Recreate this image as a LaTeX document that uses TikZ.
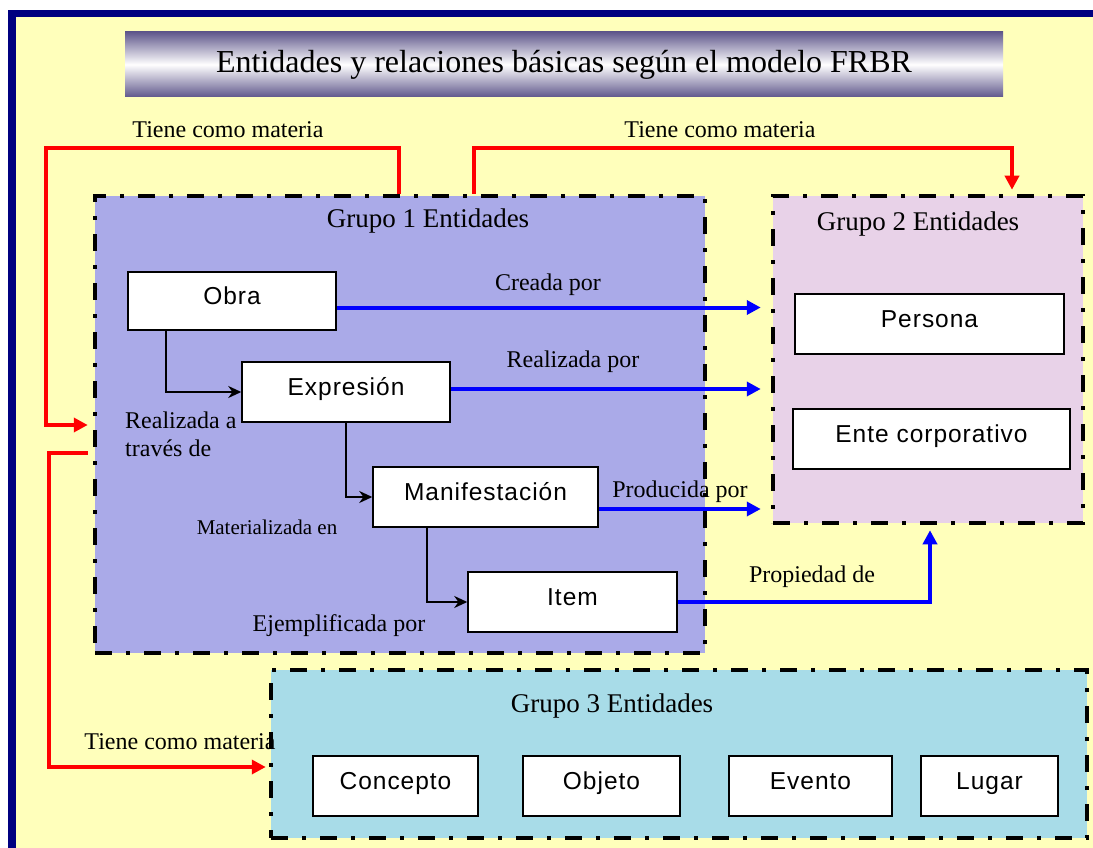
\documentclass[tikz,border=0pt]{standalone}
\usepackage{fontspec}
\setmainfont{Liberation Serif}
\setsansfont{Liberation Sans}[LetterSpace=4]
\usetikzlibrary{arrows.meta,positioning}

\definecolor{navyframe}{RGB}{0,0,128}
\definecolor{paper}{RGB}{255,255,187}
\definecolor{grupoA}{RGB}{170,170,232}
\definecolor{grupoB}{RGB}{232,210,232}
\definecolor{grupoC}{RGB}{168,220,232}
\definecolor{titleedge}{RGB}{96,88,140}

\tikzset{
  grupo/.style={draw=black, line width=4.5pt, dash pattern=on 17pt off 14pt on 4pt off 14pt, inner sep=0pt},
  entidad/.style={draw=black, line width=1.5pt, fill=white, inner sep=0pt, minimum height=60pt,
    text height=0.9em, text depth=0.3em, font=\sffamily\fontsize{24.5}{28}\selectfont},
  rotulo/.style={font=\fontsize{24}{28}\selectfont, inner sep=0pt},
  titgrupo/.style={font=\fontsize{27}{31}\selectfont, inner sep=0pt},
  negra/.style={draw=black, line width=2.3pt, -{Stealth[length=13pt,width=12pt]}},
  azul/.style={draw=blue, line width=4pt, -{Triangle[length=14pt,width=14pt]}},
  roja/.style={draw=red, line width=4pt, -{Triangle[length=14pt,width=14pt]}}
}

\begin{document}
\begin{tikzpicture}[x=1pt,y=-1pt]
  \useasboundingbox (0,0) rectangle (1093,848);
  \fill[white] (0,0) rectangle (1093,848);
  \fill[navyframe] (8,10) rectangle (1093,848);
  \fill[paper] (16,17) rectangle (1093,848);

  % title
  \node[minimum width=878pt, minimum height=65pt, inner sep=0pt,
    top color=titleedge, bottom color=titleedge, middle color=white,
    font=\fontsize{32}{36}\selectfont] (titulo) at (564,64.5)
    {Entidades y relaciones básicas según el modelo FRBR};

  % groups
  \node[grupo, fill=grupoA, minimum width=610pt, minimum height=457pt] (grupo1) at (400,424.5) {};
  \node[grupo, fill=grupoB, minimum width=310pt, minimum height=327pt] (grupo2) at (928,359.5) {};
  \node[grupo, fill=grupoC, minimum width=816pt, minimum height=168pt] (grupo3) at (679,754) {};
  \node[titgrupo] (g1txt) at (428,221) {Grupo 1 Entidades};
  \node[titgrupo] (g2txt) at (918,224) {Grupo 2 Entidades};
  \node[titgrupo] (g3txt) at (612,706) {Grupo 3 Entidades};

  % group 1
  \node[entidad, minimum width=208pt, minimum height=58pt] (obra) at (232,301) {Obra};
  \node[entidad, minimum width=208pt] (expr) at (346,392) {Expresión};
  \node[entidad, minimum width=225pt] (manif) at (485.5,497) {Manifestación};
  \node[entidad, minimum width=209pt] (item) at (572.5,602) {Item};

  % group 2
  \node[entidad, minimum width=269pt] (persona) at (929.5,324) {Persona};
  \node[entidad, minimum width=277pt] (ente) at (931.5,439) {Ente corporativo};

  % group 3
  \node[entidad, minimum width=165pt] (concepto) at (395.5,786) {Concepto};
  \node[entidad, minimum width=157pt] (objeto) at (601.5,786) {Objeto};
  \node[entidad, minimum width=163pt] (evento) at (810.5,786) {Evento};
  \node[entidad, minimum width=137pt] (lugar) at (989.5,786) {Lugar};

  % inside group 1
  \draw[negra] ([xshift=39pt]obra.south west) |- (expr.west);
  \draw[negra] (expr.south) |- (manif.west);
  \draw[negra] ([xshift=55pt]manif.south west) |- (item.west);
  \node[rotulo, align=left, anchor=west] (realiz) at (125,434) {Realizada a\\través de};
  \node[rotulo, font=\fontsize{21}{25}\selectfont] (mater) at (267,527) {Materializada en};
  \node[rotulo] (ejemp) at (339,626) {Ejemplificada por};

  % to group 2
  \draw[azul, shorten >=10pt] ([yshift=-6.5pt]obra.east) -- ([yshift=-6.5pt]obra.east -| grupo2.west);
  \draw[azul, shorten >=10pt] ([yshift=3pt]expr.east) -- ([yshift=3pt]expr.east -| grupo2.west);
  \draw[azul, shorten >=10pt] ([yshift=-12pt]manif.east) -- ([yshift=-12pt]manif.east -| grupo2.west);
  \draw[azul, shorten >=5pt] (item.east) -| ([xshift=2pt]grupo2.south);
  \node[rotulo] (creada) at (548,285) {Creada por};
  \node[rotulo] (realpor) at (573,362) {Realizada por};
  \node[rotulo] (produc) at (680,492) {Producida por};
  \node[rotulo] (propie) at (812,577) {Propiedad de};

  % subject links
  \coordinate (rojoA) at (46,148);
  \coordinate (rojoB) at (1012,148);
  \coordinate (rojoC) at (49,767);
  \draw[roja, shorten >=5pt] ([xshift=-1pt]grupo1.north) |- (rojoA) -- ([yshift=-0.5pt]rojoA |- grupo1.west) -- ([yshift=-0.5pt]grupo1.west);
  \draw[roja, shorten >=4pt] ([xshift=74pt]grupo1.north) |- (rojoB) -- (rojoB |- grupo2.north);
  \draw[roja, shorten >=3pt] ([xshift=-5pt,yshift=-28.5pt]grupo1.west) -| (rojoC) -- (rojoC -| grupo3.west);
  \node[rotulo] (materA) at (228,130) {Tiene como materia};
  \node[rotulo] (materB) at (720,130) {Tiene como materia};
  \node[rotulo] (materC) at (180,742) {Tiene como materia};
\end{tikzpicture}
\end{document}
